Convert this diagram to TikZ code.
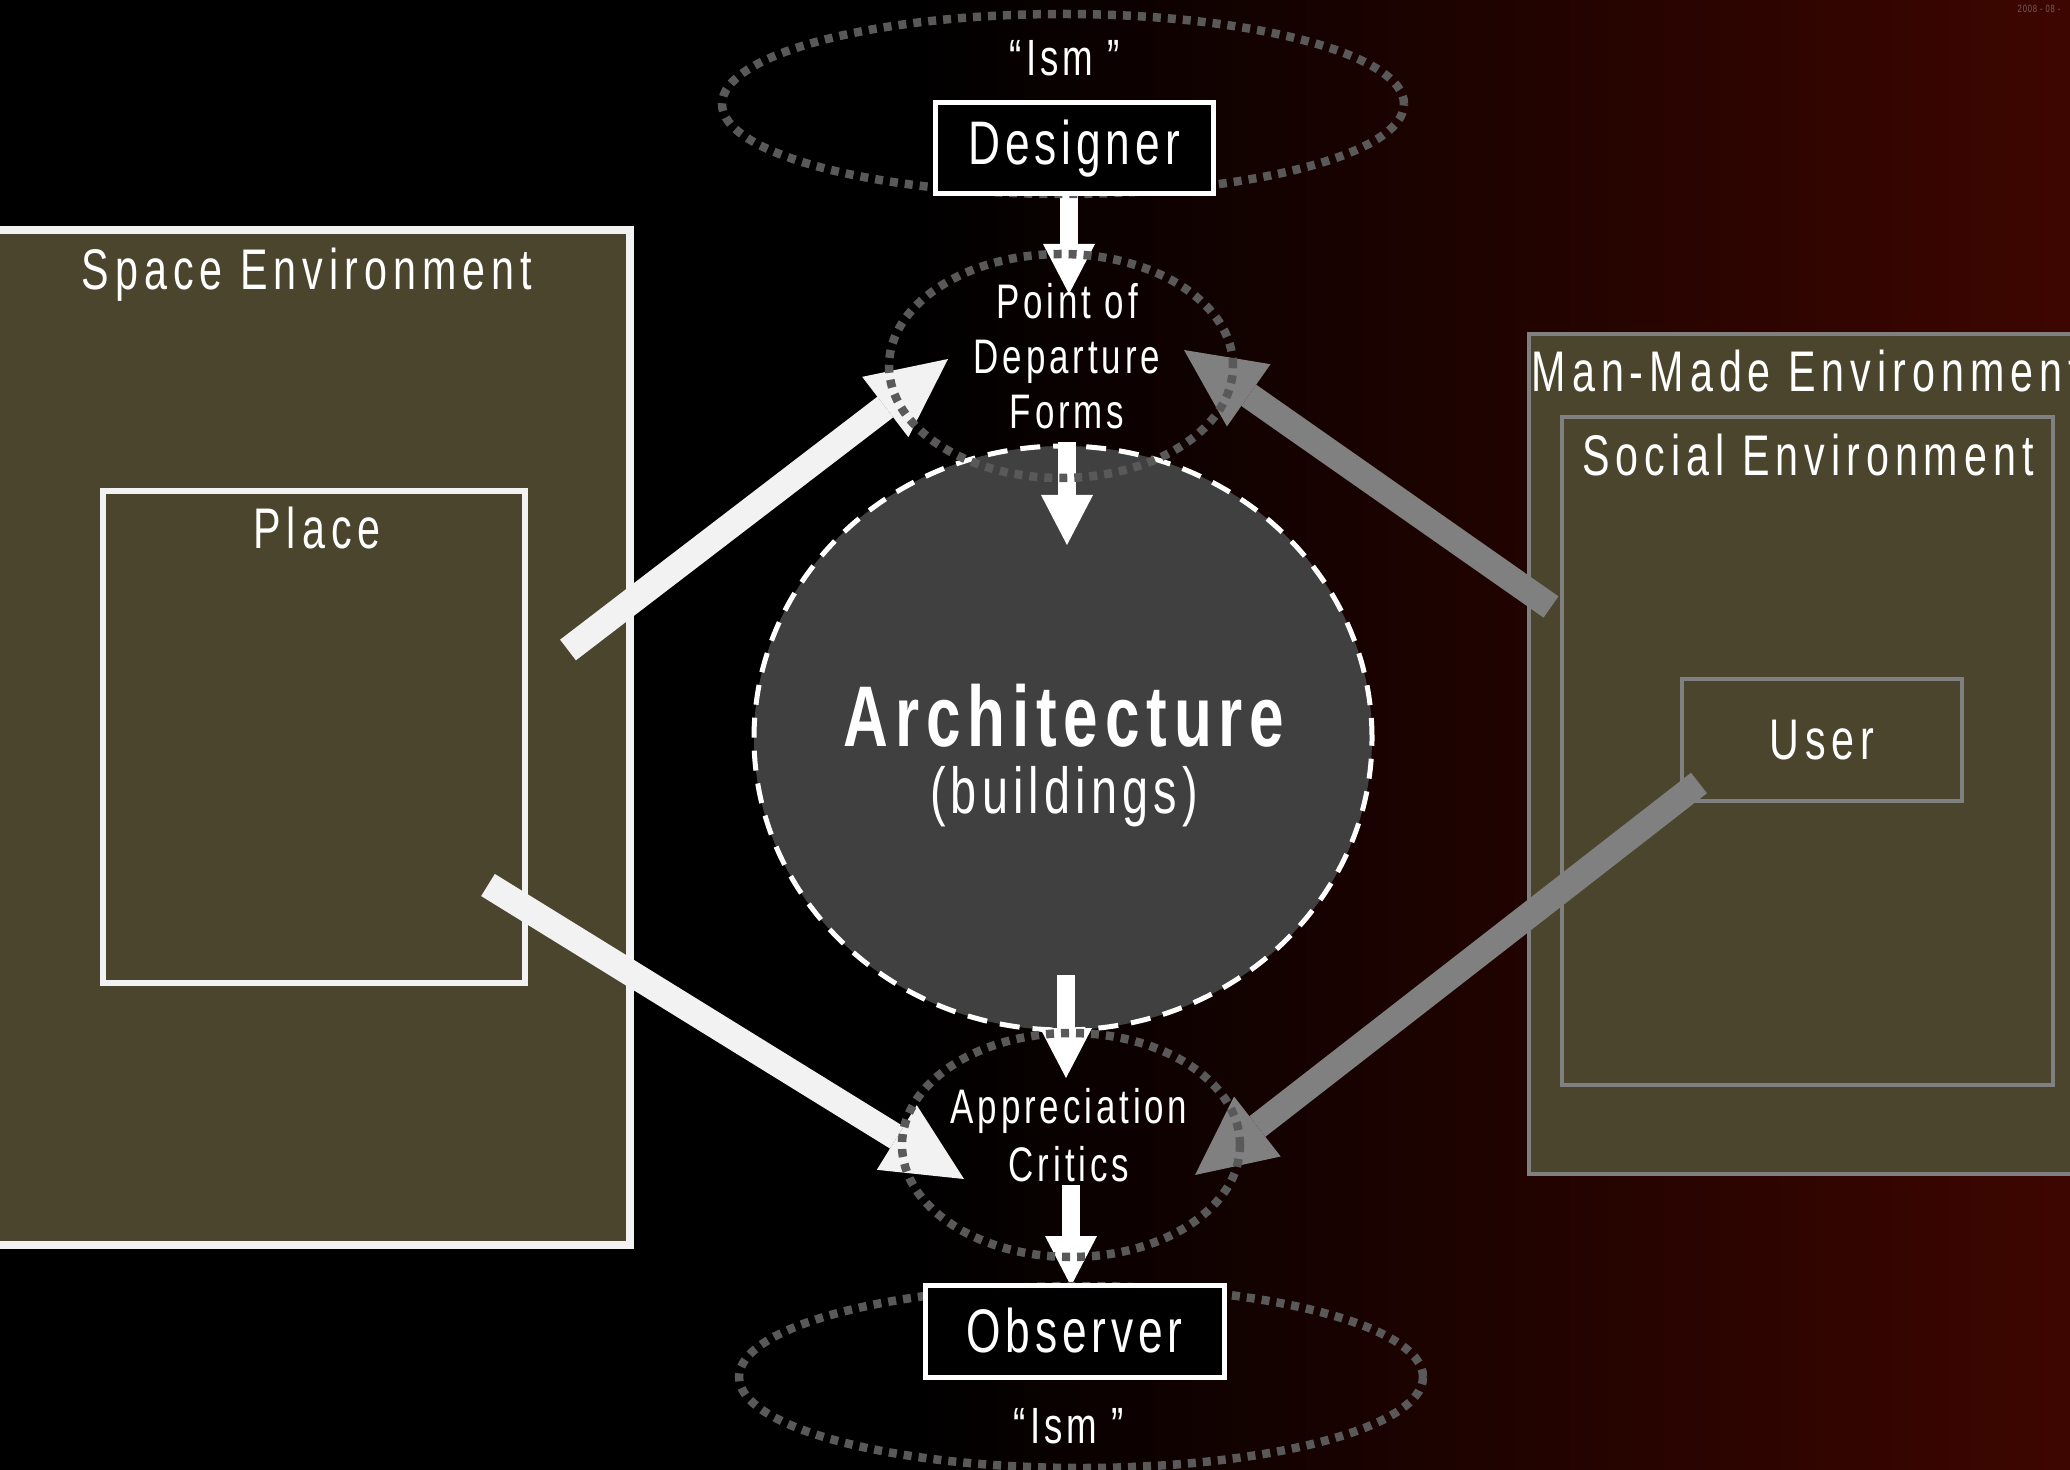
\documentclass[tikz,border=0pt]{standalone}
\usepackage{fontspec}
\setmainfont{Liberation Sans}[FakeStretch=0.72, LetterSpace=8]
\newfontfamily\widetrack{Liberation Sans}[FakeStretch=0.72, LetterSpace=10.5]
\usepackage{tikz}
\usetikzlibrary{arrows.meta, shapes.geometric, positioning}

\definecolor{boxolive}{RGB}{75,69,45}
\definecolor{boxwhite}{RGB}{242,242,242}
\definecolor{boxgrey}{RGB}{128,128,128}
\definecolor{dotgrey}{RGB}{89,89,89}
\definecolor{archgrey}{RGB}{64,64,64}
\definecolor{bgred}{RGB}{62,6,0}
\definecolor{stampgrey}{RGB}{120,95,90}

\begin{document}
\begin{tikzpicture}

\tikzstyle{envbox} = [rectangle, fill=boxolive, inner sep=0];
\tikzstyle{namebox} = [rectangle, fill=black, draw=white, line width=0.5mm, inner sep=0, text=white, font=\fontsize{17.5}{20}\selectfont];
\tikzstyle{dotring} = [ellipse, draw=dotgrey, line width=0.85mm, dash pattern=on 0.8mm off 0.7mm, inner sep=0];
\tikzstyle{titletext} = [text=white, font=\widetrack\fontsize{16.3}{19}\selectfont];
\tikzstyle{ringtext} = [text=white, align=center, font=\fontsize{13.8}{15.6}\selectfont];
\tikzstyle{lightarrow} = [-{Triangle[width=7.6mm, length=7.9mm, line width'=0pt]}, line width=2.6mm, draw=boxwhite];
\tikzstyle{darkarrow} = [-{Triangle[width=7.6mm, length=7.9mm, line width'=0pt]}, line width=2.6mm, draw=boxgrey];
\tikzstyle{downarrow} = [-{Triangle[width=5.2mm, length=5mm, line width'=0pt]}, line width=1.75mm, draw=white];

\useasboundingbox (0,0) rectangle (20.7,-14.7);
\clip (0,0) rectangle (20.7,-14.7);
\fill [black] (0,0) rectangle (9.01,-14.7);
\shade [left color=black, right color=bgred] (9,0) rectangle (20.7,-14.7);

\node(stamp) [anchor=west, inner sep=0, text=stampgrey, font=\fontsize{3}{3.5}\selectfont] at (20.17,-0.09) {2008 - 08 -};

% surroundings
\node(space) [envbox, draw=boxwhite, line width=0.8mm, minimum width=6.4cm, minimum height=10.15cm] at (3.10,-7.375) {};
\node(place) [envbox, draw=boxwhite, line width=0.6mm, minimum width=4.22cm, minimum height=4.92cm] at (3.14,-7.37) {};

\node(manmade) [envbox, draw=boxgrey, line width=0.45mm, minimum width=5.71cm, minimum height=8.40cm] at (18.145,-7.54) {};
\node(social) [envbox, draw=boxgrey, line width=0.45mm, minimum width=4.91cm, minimum height=6.68cm] at (18.075,-7.51) {};
\node(user) [envbox, draw=boxgrey, line width=0.45mm, minimum width=2.80cm, minimum height=1.22cm, titletext] at (18.22,-7.40) {User};

\node(spaceTitle) [titletext] at (3.07,-2.75) {Space Environment};
\node(placeTitle) [titletext] at (3.17,-5.28) {Place};
\node(manmadeTitle) [titletext, anchor=west, inner sep=0] at (15.31,-3.71) {Man-Made Environment};
\node(socialTitle) [titletext] at (18.08,-4.55) {Social Environment};

% the building
\node(arch) [ellipse, fill=archgrey, draw=white, line width=0.5mm, dash pattern=on 2mm off 1.3mm, minimum width=6.18cm, minimum height=5.84cm, inner sep=0] at (10.63,-7.38) {};
\node(archTitle) [text=white, font=\fontsize{24.5}{27}\bfseries] at (10.64,-7.16) {Architecture};
\node(archSub) [text=white, font=\fontsize{18.5}{21}\selectfont] at (10.64,-7.97) {(buildings)};

\coordinate(designerOut) at (10.69,-1.94);
\coordinate(departTop) at (10.69,-2.94);
\coordinate(departOut) at (10.67,-4.42);
\coordinate(archTop) at (10.67,-5.45);
\coordinate(archOut) at (10.66,-9.75);
\coordinate(criticsTop) at (10.66,-10.78);
\coordinate(criticsOut) at (10.71,-11.85);
\coordinate(observerTop) at (10.71,-12.86);

\coordinate(placeUp) at (5.68,-6.50);
\coordinate(departLeft) at (9.48,-3.59);
\coordinate(placeDown) at (4.88,-8.85);
\coordinate(criticsLeft) at (9.64,-11.79);
\coordinate(socialUp) at (15.51,-6.07);
\coordinate(departRight) at (11.84,-3.50);
\coordinate(userDown) at (16.99,-7.83);
\coordinate(criticsRight) at (11.95,-11.75);

\draw [downarrow] (designerOut) -- (departTop);
\draw [downarrow] (departOut) -- (archTop);
\draw [downarrow] (archOut) -- (criticsTop);
\draw [downarrow] (criticsOut) -- (observerTop);

\draw [lightarrow] (placeUp) -- (departLeft);
\draw [lightarrow] (placeDown) -- (criticsLeft);
\draw [darkarrow] (socialUp) -- (departRight);
\draw [darkarrow] (userDown) -- (criticsRight);

% dotted rings
\node(ismTop) [dotring, minimum width=6.82cm, minimum height=1.80cm] at (10.63,-1.04) {};
\node(depart) [dotring, minimum width=3.44cm, minimum height=2.24cm] at (10.61,-3.66) {};
\node(critics) [dotring, minimum width=3.38cm, minimum height=2.24cm] at (10.71,-11.45) {};
\node(ismBottom) [dotring, minimum width=6.84cm, minimum height=1.82cm] at (10.81,-13.77) {};

\node(designer) [namebox, minimum width=2.78cm, minimum height=0.91cm] at (10.74,-1.485) {Designer};
\node(observer) [namebox, minimum width=2.99cm, minimum height=0.92cm] at (10.745,-13.31) {Observer};

\node(ismTopText) [titletext, font=\fontsize{14.5}{17}\selectfont] at (10.65,-0.58) {“Ism ”};
\node(ismBottomText) [titletext, font=\fontsize{14.5}{17}\selectfont] at (10.69,-14.26) {“Ism ”};
\node(departText) [ringtext] at (10.67,-3.56) {Point of\\Departure\\Forms};
\node(criticsText) [ringtext, font=\fontsize{13.8}{16.5}\selectfont] at (10.69,-11.35) {Appreciation\\Critics};

\end{tikzpicture}
\end{document}
